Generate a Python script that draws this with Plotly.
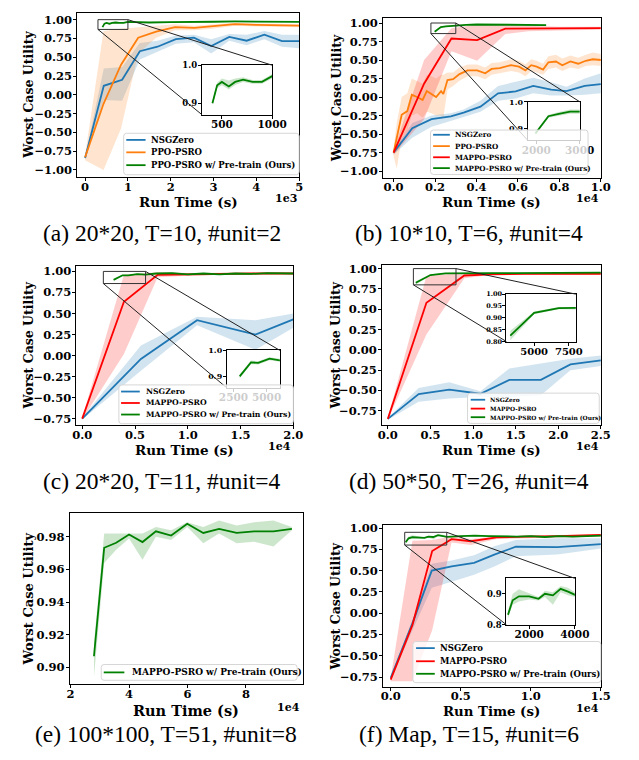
import plotly.graph_objects as go

W, H = 639, 760
SERIF = "DejaVu Serif"
CAPFONT = "Liberation Serif"
BLUE, ORANGE, RED, GREEN = "#1f77b4", "#ff7f0e", "#ff0000", "#008000"
FILL = {BLUE: "rgba(31,119,180,0.2)", ORANGE: "rgba(255,127,14,0.2)",
        RED: "rgba(255,0,0,0.2)", GREEN: "rgba(0,128,0,0.2)"}

# ---------------- data ----------------
# (a) 20*20, T=10, #unit=2
a_nsg_x = [0, 436, 865, 1278, 1692, 2120, 2541, 2947, 3368, 3774, 4188, 4600, 5000]
a_nsg_y = [-0.84, 0.12, 0.20, 0.58, 0.64, 0.74, 0.76, 0.65, 0.77, 0.72, 0.80, 0.715, 0.715]
a_nsg_lo = [-0.86, -0.07, -0.08, 0.47, 0.57, 0.68, 0.70, 0.55, 0.72, 0.66, 0.74, 0.64, 0.62]
a_nsg_hi = [-0.82, 0.35, 0.37, 0.69, 0.72, 0.79, 0.80, 0.74, 0.81, 0.80, 0.85, 0.80, 0.80]
a_ppo_x = [0, 430, 840, 1240, 1660, 2100, 2550, 2980, 3500, 4000, 4500, 5000]
a_ppo_y = [-0.83, -0.12, 0.40, 0.76, 0.84, 0.90, 0.89, 0.91, 0.94, 0.93, 0.925, 0.92]
a_ppo_lo = [-0.87, -1.00, -0.45, 0.55, 0.76, 0.86, 0.86, 0.88, 0.92, 0.91, 0.90, 0.90]
a_ppo_hi = [-0.80, 0.85, 0.88, 0.90, 0.92, 0.94, 0.92, 0.94, 0.96, 0.95, 0.945, 0.94]
a_grn_x = [406, 453, 500, 569, 632, 711, 805, 899, 1000, 1500, 2000, 2500, 3000, 3500, 4000, 4500, 5000]
a_grn_y = [0.900, 0.947, 0.956, 0.944, 0.956, 0.962, 0.956, 0.956, 0.971, 0.962, 0.968, 0.966, 0.972, 0.976, 0.976, 0.972, 0.970]
a_grn_lo = [0.895, 0.940, 0.947, 0.936, 0.948, 0.956, 0.951, 0.951, 0.965, 0.956, 0.962, 0.960, 0.966, 0.970, 0.970, 0.966, 0.964]
a_grn_hi = [0.905, 0.954, 0.965, 0.960, 0.965, 0.968, 0.961, 0.961, 0.977, 0.968, 0.974, 0.972, 0.978, 0.982, 0.982, 0.978, 0.976]

# (b) 10*10, T=6, #unit=4
b_nsg_x = [0, 900, 1830, 2760, 3380, 4190, 5040, 5890, 6740, 7600, 8340, 9220, 10000]
b_nsg_y = [-0.75, -0.42, -0.30, -0.26, -0.21, -0.13, 0.05, 0.075, 0.15, 0.10, 0.08, 0.15, 0.175]
b_nsg_lo = [-0.78, -0.55, -0.40, -0.32, -0.27, -0.20, -0.05, -0.02, 0.05, 0.02, 0.02, 0.03, 0.05]
b_nsg_hi = [-0.72, -0.35, -0.25, -0.22, -0.17, -0.05, 0.15, 0.20, 0.26, 0.20, 0.14, 0.25, 0.32]
b_ppo_x = [0, 150, 390, 660, 880, 1130, 1400, 1600, 1830, 2050, 2290, 2400, 2600, 2870, 3180, 3570,
           4030, 4420, 4730, 5120, 5660, 6050, 6360, 6640, 6900, 7210, 7470, 7830, 8140, 8530,
           8910, 9270, 9610, 10000]
b_ppo_y = [-0.75, -0.55, -0.24, -0.19, 0.03, 0.00, -0.04, 0.08, 0.04, 0.00, 0.08, 0.04, 0.23, 0.24,
           0.31, 0.36, 0.36, 0.32, 0.38, 0.39, 0.43, 0.41, 0.36, 0.43, 0.41, 0.37, 0.47, 0.48, 0.43,
           0.48, 0.45, 0.49, 0.51, 0.50]
b_ppo_lo = [-0.80, -0.97, -0.55, -0.45, -0.25, -0.22, -0.28, -0.20, -0.22, -0.25, -0.25, -0.28,
            0.10, 0.15, 0.22, 0.28, 0.28, 0.24, 0.30, 0.32, 0.35, 0.33, 0.28, 0.35, 0.33, 0.30, 0.38,
            0.40, 0.35, 0.40, 0.38, 0.42, 0.43, 0.42]
b_ppo_hi = [-0.70, -0.35, 0.00, 0.05, 0.25, 0.22, 0.18, 0.30, 0.28, 0.25, 0.30, 0.30, 0.33, 0.33,
            0.40, 0.44, 0.44, 0.40, 0.46, 0.47, 0.51, 0.49, 0.44, 0.51, 0.49, 0.45, 0.55, 0.57, 0.52,
            0.56, 0.53, 0.57, 0.60, 0.58]
b_red_x = [0, 1470, 2790, 4030, 5390, 6500, 8000, 10000]
b_red_y = [-0.75, 0.18, 0.79, 0.77, 0.925, 0.925, 0.925, 0.93]
b_red_lo = [-0.78, -0.30, 0.62, 0.49, 0.85, 0.89, 0.90, 0.91]
b_red_hi = [-0.72, 0.50, 0.93, 0.98, 0.97, 0.96, 0.95, 0.95]
b_grn_x = [1980, 2280, 2520, 2780, 3000, 3500, 4000, 4500, 5000, 5500, 6000, 6500, 7000, 7360]
b_grn_y = [0.882, 0.946, 0.955, 0.963, 0.963, 0.975, 0.980, 0.980, 0.978, 0.977, 0.977, 0.975, 0.975, 0.972]
b_grn_lo = [0.876, 0.940, 0.948, 0.955, 0.955, 0.969, 0.975, 0.975, 0.973, 0.972, 0.972, 0.970, 0.970, 0.967]
b_grn_hi = [0.888, 0.952, 0.962, 0.971, 0.971, 0.981, 0.985, 0.985, 0.983, 0.982, 0.982, 0.980, 0.980, 0.977]

# (c) 20*20, T=11, #unit=4
c_nsg_x = [0, 5560, 10880, 16410, 20000]
c_nsg_y = [-0.75, -0.04, 0.42, 0.25, 0.43]
c_nsg_lo = [-0.76, -0.18, 0.36, 0.07, 0.33]
c_nsg_hi = [-0.74, 0.12, 0.46, 0.42, 0.50]
c_red_x = [0, 3950, 7140, 10000, 13000, 16000, 20000]
c_red_y = [-0.75, 0.64, 0.96, 0.965, 0.975, 0.975, 0.975]
c_red_lo = [-0.76, 0.02, 0.93, 0.95, 0.96, 0.965, 0.965]
c_red_hi = [-0.74, 0.96, 0.99, 0.98, 0.985, 0.985, 0.985]
c_grn_x = [2970, 3820, 4370, 5220, 6000, 7000, 8500, 10000, 11500, 13000, 14500, 16000, 17500, 19000, 20000]
c_grn_y = [0.900, 0.954, 0.952, 0.968, 0.962, 0.975, 0.980, 0.965, 0.975, 0.965, 0.975, 0.970, 0.980, 0.975, 0.975]
c_grn_lo = [0.893, 0.947, 0.946, 0.962, 0.956, 0.969, 0.974, 0.959, 0.969, 0.959, 0.969, 0.964, 0.974, 0.969, 0.969]
c_grn_hi = [0.907, 0.961, 0.958, 0.974, 0.968, 0.981, 0.986, 0.971, 0.981, 0.971, 0.981, 0.976, 0.986, 0.981, 0.981]

# (d) 50*50, T=26, #unit=4
d_nsg_x = [0, 3620, 7210, 10870, 14260, 17960, 21430, 25000]
d_nsg_y = [-0.85, -0.545, -0.49, -0.54, -0.37, -0.37, -0.18, -0.13]
d_nsg_lo = [-0.86, -0.64, -0.60, -0.58, -0.58, -0.56, -0.25, -0.20]
d_nsg_hi = [-0.84, -0.47, -0.40, -0.51, -0.23, -0.17, -0.11, -0.07]
d_red_x = [0, 4530, 8980, 12000, 16000, 20000, 25000]
d_red_y = [-0.85, 0.58, 0.915, 0.93, 0.935, 0.935, 0.935]
d_red_lo = [-0.86, 0.19, 0.88, 0.92, 0.925, 0.925, 0.925]
d_red_hi = [-0.84, 0.91, 0.95, 0.945, 0.945, 0.945, 0.945]
d_grn_x = [3280, 5000, 6770, 8000, 10000, 12500, 15000, 17500, 20000, 22500, 25000]
d_grn_y = [0.825, 0.921, 0.941, 0.940, 0.945, 0.945, 0.945, 0.945, 0.950, 0.950, 0.950]
d_grn_lo = [0.805, 0.915, 0.936, 0.935, 0.940, 0.940, 0.940, 0.940, 0.945, 0.945, 0.945]
d_grn_hi = [0.845, 0.927, 0.946, 0.945, 0.950, 0.950, 0.950, 0.950, 0.955, 0.955, 0.955]

# (e) 100*100, T=51, #unit=8
e_grn_x = [28000, 31500, 35600, 40000, 44600, 49200, 54400, 59900, 65400, 70800, 76800, 82800, 89400, 95700]
e_grn_y = [0.9067, 0.9733, 0.9764, 0.9814, 0.9768, 0.9834, 0.9808, 0.9880, 0.9824, 0.9849, 0.9824, 0.9834, 0.9834, 0.9849]
e_grn_lo = [0.894, 0.964, 0.972, 0.979, 0.966, 0.980, 0.978, 0.986, 0.976, 0.982, 0.976, 0.977, 0.974, 0.984]
e_grn_hi = [0.915, 0.982, 0.982, 0.982, 0.982, 0.986, 0.984, 0.989, 0.986, 0.990, 0.987, 0.989, 0.990, 0.986]

# (f) Map, T=15, #unit=6
f_nsg_x = [0, 1550, 2930, 4350, 5950, 7440, 8930, 11900, 15000]
f_nsg_y = [-0.76, -0.12, 0.50, 0.55, 0.59, 0.69, 0.78, 0.775, 0.81]
f_nsg_lo = [-0.78, -0.20, 0.30, 0.37, 0.45, 0.55, 0.67, 0.69, 0.76]
f_nsg_hi = [-0.74, -0.08, 0.58, 0.62, 0.68, 0.79, 0.86, 0.88, 0.88]
f_red_x = [0, 1550, 2960, 4340, 5720, 7560, 9620, 12000, 15000]
f_red_y = [-0.78, -0.14, 0.73, 0.87, 0.845, 0.89, 0.90, 0.905, 0.92]
f_red_lo = [-0.80, -0.80, -0.20, 0.83, 0.80, 0.87, 0.88, 0.89, 0.90]
f_red_hi = [-0.76, 0.85, 0.86, 0.90, 0.87, 0.90, 0.91, 0.92, 0.93]
f_grn_x = [1070, 1275, 1550, 2000, 2410, 2690, 3040, 3380, 3700, 4000, 5000, 6000, 7000, 8000,
           9000, 10000, 11000, 12000, 13000, 14000, 15000]
f_grn_y = [0.832, 0.879, 0.892, 0.892, 0.884, 0.900, 0.895, 0.916, 0.907, 0.897, 0.905, 0.910,
           0.905, 0.900, 0.900, 0.905, 0.895, 0.905, 0.900, 0.905, 0.910]
f_grn_lo = [0.820, 0.865, 0.875, 0.882, 0.878, 0.890, 0.865, 0.905, 0.895, 0.890, 0.897, 0.902,
            0.897, 0.892, 0.892, 0.897, 0.887, 0.897, 0.892, 0.897, 0.902]
f_grn_hi = [0.845, 0.900, 0.915, 0.902, 0.890, 0.910, 0.905, 0.925, 0.920, 0.905, 0.913, 0.918,
            0.913, 0.908, 0.908, 0.913, 0.903, 0.913, 0.908, 0.913, 0.918]

# tick labels
x_ticks_a = [0, 1000, 2000, 3000, 4000, 5000]
x_labels_a = ["0", "1", "2", "3", "4", "5"]
x_ticks_b = [0, 2000, 4000, 6000, 8000, 10000]
x_labels_b = ["0.0", "0.2", "0.4", "0.6", "0.8", "1.0"]
x_ticks_c = [0, 5000, 10000, 15000, 20000]
x_labels_c = ["0.0", "0.5", "1.0", "1.5", "2.0"]
x_ticks_d = [0, 5000, 10000, 15000, 20000, 25000]
x_labels_d = ["0.0", "0.5", "1.0", "1.5", "2.0", "2.5"]
x_ticks_e = [20000, 40000, 60000, 80000]
x_labels_e = ["2", "4", "6", "8"]
x_ticks_f = [0, 5000, 10000, 15000]
x_labels_f = ["0.0", "0.5", "1.0", "1.5"]
y_ticks_full = [-1.0, -0.75, -0.5, -0.25, 0.0, 0.25, 0.5, 0.75, 1.0]
y_ticks_part = [-0.75, -0.5, -0.25, 0.0, 0.25, 0.5, 0.75, 1.0]
y_ticks_e = [0.90, 0.92, 0.94, 0.96, 0.98]
offsets = ["1e3", "1e4", "1e4", "1e4", "1e4", "1e4"]
captions = ["(a) 20*20, T=10, #unit=2", "(b) 10*10, T=6, #unit=4", "(c) 20*20, T=11, #unit=4",
            "(d) 50*50, T=26, #unit=4", "(e) 100*100, T=51, #unit=8", "(f) Map, T=15, #unit=6"]
names_ppo = ["NSGZero", "PPO-PSRO", "PPO-PSRO w/ Pre-train (Ours)"]
names_mappo4 = ["NSGZero", "PPO-PSRO", "MAPPO-PSRO", "MAPPO-PSRO w/ Pre-train (Ours)"]
names_mappo3 = ["NSGZero", "MAPPO-PSRO", "MAPPO-PSRO w/ Pre-train (Ours)"]
names_e = ["MAPPO-PSRO w/ Pre-train (Ours)"]


def fmt(v, d):
    return f"{v:.{d}f}".replace("-", "\u2212")


# ---------------- layout geometry (pixels) ----------------
panels = [
    dict(box=(72, 302, 8, 174), xr=(-180, 5000), yr=(-1.09, 1.09), xt=x_ticks_a, xl=x_labels_a,
         yt=y_ticks_full, yd=2, ytitle=(21.7, 12.5), xtitle=(199.5, 13.5), off=(302, 196), cap=(160, 231),
         so=-4,
         series=[(a_nsg_x, a_nsg_y, a_nsg_lo, a_nsg_hi, BLUE), (a_ppo_x, a_ppo_y, a_ppo_lo, a_ppo_hi, ORANGE),
                 (a_grn_x, a_grn_y, a_grn_lo, a_grn_hi, GREEN)],
         legend=dict(box=(120, 302, 130, 172), size=8.5, line=(122.7, 142.7), tx=146.7,
                     items=list(zip(names_ppo, [BLUE, ORANGE, GREEN], [136.7, 149.3, 162.3]))),
         inset=dict(box=(201, 274, 61, 111), xr=(300, 1000), yr=(0.87, 1.0), xt=[500, 1000], yt=[0.9, 1.0],
                    yd=1, ys=8.5, xs=10.5)),
    dict(box=(389, 615, 13, 175), xr=(-512, 10000), yr=(-1.09, 1.07), xt=x_ticks_b, xl=x_labels_b,
         yt=y_ticks_full, yd=2, ytitle=(340.7, 12.5), xtitle=(199.5, 13.5), off=(615, 196), cap=(478, 231),
         so=-4,
         series=[(b_nsg_x, b_nsg_y, b_nsg_lo, b_nsg_hi, BLUE), (b_ppo_x, b_ppo_y, b_ppo_lo, b_ppo_hi, ORANGE),
                 (b_red_x, b_red_y, b_red_lo, b_red_hi, RED), (b_grn_x, b_grn_y, b_grn_lo, b_grn_hi, GREEN)],
         legend=dict(box=(438.3, 601.7, 126.7, 171.7), size=7.2, line=(441, 458.3), tx=461.7,
                     items=list(zip(names_mappo4, [BLUE, ORANGE, RED, GREEN], [131.5, 143, 154.3, 165.3]))),
         inset=dict(box=(539, 593, 98, 137), xr=(1800, 3000), yr=(0.857, 1.0), xt=[2000, 3000], yt=[0.9, 1.0],
                    yd=1, ys=8, xs=10.5)),
    dict(box=(71, 296, 264, 426), xr=(-548, 20000), yr=(-0.83, 1.07), xt=x_ticks_c, xl=x_labels_c,
         yt=y_ticks_part, yd=2, ytitle=(21.7, 12.5), xtitle=(450.8, 13.5), off=(296, 447), cap=(160, 482),
         so=-4,
         series=[(c_nsg_x, c_nsg_y, c_nsg_lo, c_nsg_hi, BLUE), (c_red_x, c_red_y, c_red_lo, c_red_hi, RED),
                 (c_grn_x, c_grn_y, c_grn_lo, c_grn_hi, GREEN)],
         legend=dict(box=(115, 296, 385, 424.3), size=7.7, line=(117.3, 136.7), tx=140.7,
                     items=list(zip(names_mappo3, [BLUE, RED, GREEN], [391.7, 403.3, 415]))),
         inset=dict(box=(227, 282, 350, 388), xr=(2000, 6000), yr=(0.856, 1.0), xt=[2500, 5000], yt=[0.9, 1.0],
                    yd=1, ys=8, xs=10.5)),
    dict(box=(388, 615, 263, 426), xr=(-679, 25000), yr=(-0.93, 1.05), xt=x_ticks_d, xl=x_labels_d,
         yt=y_ticks_part, yd=2, ytitle=(340.7, 12.5), xtitle=(450.8, 13.5), off=(615, 447), cap=(478, 482),
         so=-4,
         series=[(d_nsg_x, d_nsg_y, d_nsg_lo, d_nsg_hi, BLUE), (d_red_x, d_red_y, d_red_lo, d_red_hi, RED),
                 (d_grn_x, d_grn_y, d_grn_lo, d_grn_hi, GREEN)],
         legend=dict(box=(476.7, 613.3, 393.3, 424), size=5.9, line=(480, 495), tx=498.3,
                     items=list(zip(names_mappo3, [BLUE, RED, GREEN], [400, 409, 417.7]))),
         inset=dict(box=(517, 589, 293, 341), xr=(3000, 8000), yr=(0.80, 1.0), xt=[5000, 7500],
                    yt=[0.80, 0.85, 0.90, 0.95, 1.00], yd=2, ys=6.5, xs=10)),
    dict(box=(64, 306, 515, 688), xr=(19700, 99500), yr=(0.8897, 0.9945), xt=x_ticks_e, xl=x_labels_e,
         yt=y_ticks_e, yd=2, ytitle=(21.7, 13), xtitle=(714.5, 14.5), off=(305, 712), cap=(164, 739),
         so=-4,
         series=[(e_grn_x, e_grn_y, e_grn_lo, e_grn_hi, GREEN)],
         legend=dict(box=(96.7, 300, 668.3, 684.3), size=9, line=(99.3, 120.7), tx=126.7,
                     items=list(zip(names_e, [GREEN], [676.3]))),
         inset=None),
    dict(box=(389, 615, 527, 691), xr=(-550, 15000), yr=(-0.866, 1.035), xt=x_ticks_f, xl=x_labels_f,
         yt=y_ticks_part, yd=2, ytitle=(340.7, 12.5), xtitle=(715.5, 13.3), off=(615, 713), cap=(478, 739),
         so=-5,
         series=[(f_nsg_x, f_nsg_y, f_nsg_lo, f_nsg_hi, BLUE), (f_red_x, f_red_y, f_red_lo, f_red_hi, RED),
                 (f_grn_x, f_grn_y, f_grn_lo, f_grn_hi, GREEN)],
         legend=dict(box=(420, 615, 645, 686.7), size=8.5, line=(423.3, 442.7), tx=446,
                     items=list(zip(names_mappo3, [BLUE, RED, GREEN], [651.7, 665, 677.7]))),
         inset=dict(box=(517, 588, 581, 628), xr=(1000, 4000), yr=(0.80, 0.95), xt=[2000, 4000], yt=[0.8, 0.9],
                    yd=1, ys=8.5, xs=10.5)),
]

fig = go.Figure()
layout = dict(width=W, height=H, margin=dict(l=0, r=0, t=0, b=0), paper_bgcolor="white",
              plot_bgcolor="white", showlegend=False)
shapes, annos = [], []


def px(x):
    return x / W


def py(y):
    return 1 - y / H


def axis_dict(box, rng, dom_is_x, size, tickvals, ticktext, anchor, standoff):
    l, r, t, b = box
    d = dict(range=list(rng), showline=True, linecolor="black", linewidth=1, mirror=True,
             ticks="outside", ticklen=3, tickwidth=1, tickcolor="black", showgrid=False,
             zeroline=False, tickvals=tickvals, ticktext=ticktext, anchor=anchor, fixedrange=True,
             ticklabelstandoff=standoff,
             tickfont=dict(family=SERIF, size=size, color="black", weight="bold"))
    d["domain"] = [px(l), px(r)] if dom_is_x else [py(b), py(t)]
    return d


def data_to_paper(box, xr, yr, x, y):
    l, r, t, b = box
    X = l + (x - xr[0]) / (xr[1] - xr[0]) * (r - l)
    Y = b - (y - yr[0]) / (yr[1] - yr[0]) * (b - t)
    return px(X), py(Y)


def add_series(xa, ya, s):
    x, y, lo, hi, c = s
    fig.add_trace(go.Scatter(x=x + x[::-1], y=hi + lo[::-1], fill="toself", fillcolor=FILL[c],
                             line=dict(width=0), mode="lines", hoverinfo="skip", xaxis=xa, yaxis=ya))


def add_line(xa, ya, s):
    x, y, lo, hi, c = s
    fig.add_trace(go.Scatter(x=x, y=y, mode="lines", line=dict(color=c, width=1.8), xaxis=xa, yaxis=ya))


n_axis = 0
for i, p in enumerate(panels):
    n_axis += 1
    k = n_axis
    xa, ya = ("x" if k == 1 else f"x{k}"), ("y" if k == 1 else f"y{k}")
    xn, yn = ("xaxis" if k == 1 else f"xaxis{k}"), ("yaxis" if k == 1 else f"yaxis{k}")
    layout[xn] = axis_dict(p["box"], p["xr"], True, 11.5, p["xt"], p["xl"], ya, p["so"])
    layout[yn] = axis_dict(p["box"], p["yr"], False, 11.5, p["yt"], [fmt(v, p["yd"]) for v in p["yt"]], xa, -1)
    for s in p["series"]:
        add_series(xa, ya, s)
    for s in p["series"]:
        add_line(xa, ya, s)
    l, r, t, b = p["box"]
    annos.append(dict(x=px(p["ytitle"][0]), y=py((t + b) / 2), xref="paper", yref="paper",
                      text="Worst Case Utility", textangle=-90, showarrow=False, xanchor="center",
                      yanchor="middle", font=dict(family=SERIF, size=p["ytitle"][1], color="black", weight="bold")))
    annos.append(dict(x=px((l + r) / 2), y=py(p["xtitle"][0]), xref="paper", yref="paper",
                      text="Run Time (s)", showarrow=False, xanchor="center", yanchor="middle",
                      font=dict(family=SERIF, size=p["xtitle"][1], color="black", weight="bold")))
    annos.append(dict(x=px(p["off"][0]), y=py(p["off"][1]), xref="paper", yref="paper",
                      text=offsets[i], showarrow=False, xanchor="right", yanchor="middle",
                      font=dict(family=SERIF, size=11, color="black", weight="bold")))
    annos.append(dict(x=px(p["cap"][0]), y=py(p["cap"][1]), xref="paper", yref="paper",
                      text=captions[i], showarrow=False, xanchor="center", yanchor="middle",
                      font=dict(family=CAPFONT, size=23.5, color="black")))
    p["axes"] = (xa, ya)

# insets
for p in panels:
    ins = p["inset"]
    if ins is None:
        continue
    n_axis += 1
    k = n_axis
    xa, ya = f"x{k}", f"y{k}"
    layout[f"xaxis{k}"] = axis_dict(ins["box"], ins["xr"], True, ins["xs"], ins["xt"],
                                    [str(v) for v in ins["xt"]], ya, -3)
    layout[f"yaxis{k}"] = axis_dict(ins["box"], ins["yr"], False, ins["ys"], ins["yt"],
                                    [fmt(v, ins["yd"]) for v in ins["yt"]], xa, -1)
    g = p["series"][-1]
    add_series(xa, ya, g)
    add_line(xa, ya, g)
    mxa, mya = p["axes"]
    shapes.append(dict(type="rect", xref=mxa, yref=mya, x0=ins["xr"][0], x1=ins["xr"][1],
                       y0=ins["yr"][0], y1=ins["yr"][1], line=dict(color="#333333", width=1)))
    il, ir, it, ib = ins["box"]
    tr = data_to_paper(p["box"], p["xr"], p["yr"], ins["xr"][1], ins["yr"][1])
    bl = data_to_paper(p["box"], p["xr"], p["yr"], ins["xr"][0], ins["yr"][0])
    shapes.append(dict(type="line", xref="paper", yref="paper", x0=tr[0], y0=tr[1], x1=px(ir), y1=py(it),
                       line=dict(color="#222222", width=1)))
    shapes.append(dict(type="line", xref="paper", yref="paper", x0=bl[0], y0=bl[1], x1=px(il), y1=py(ib),
                       line=dict(color="#222222", width=1)))

# legends (matplotlib style boxes)
for p in panels:
    lg = p["legend"]
    l, r, t, b = lg["box"]
    rx, ry = 3 / W, 3 / H
    x0, x1, y0, y1 = px(l), px(r), py(b), py(t)
    path = (f"M {x0 + rx},{y1} L {x1 - rx},{y1} Q {x1},{y1} {x1},{y1 - ry} L {x1},{y0 + ry} "
            f"Q {x1},{y0} {x1 - rx},{y0} L {x0 + rx},{y0} Q {x0},{y0} {x0},{y0 + ry} "
            f"L {x0},{y1 - ry} Q {x0},{y1} {x0 + rx},{y1} Z")
    shapes.append(dict(type="path", xref="paper", yref="paper", path=path,
                       fillcolor="rgba(255,255,255,0.8)", line=dict(color="#d6d6d6", width=1)))
    for name, c, yy in lg["items"]:
        shapes.append(dict(type="line", xref="paper", yref="paper", x0=px(lg["line"][0]), x1=px(lg["line"][1]),
                           y0=py(yy), y1=py(yy), line=dict(color=c, width=1.8)))
        annos.append(dict(x=px(lg["tx"]), y=py(yy), xref="paper", yref="paper", text=name, showarrow=False,
                          xanchor="left", yanchor="middle",
                          font=dict(family=SERIF, size=lg["size"], color="black", weight="bold")))

layout["shapes"] = shapes
layout["annotations"] = annos
fig.update_layout(**layout)
fig.write_html("out.html", config={"displayModeBar": False, "staticPlot": True},
               post_script="document.body.style.margin='0px';document.body.style.overflow='hidden';")
